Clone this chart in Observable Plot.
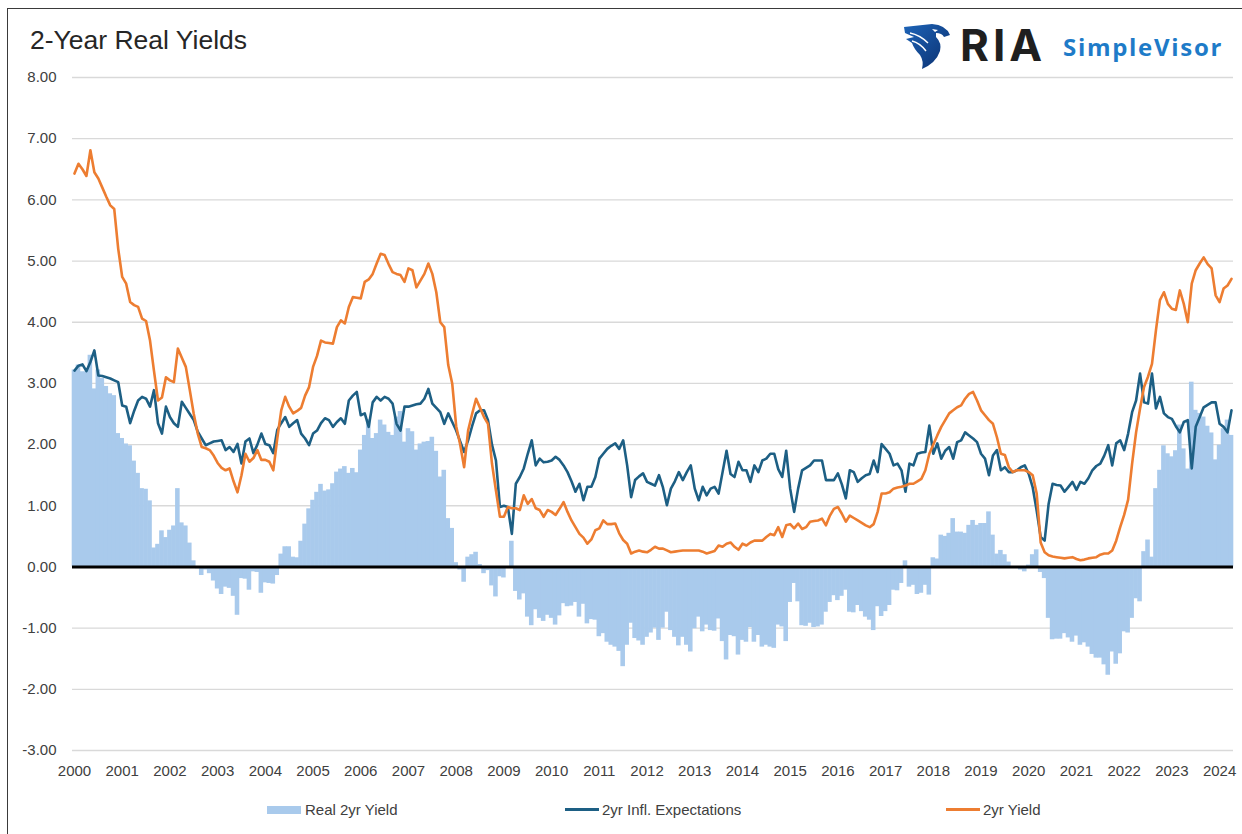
<!DOCTYPE html>
<html>
<head>
<meta charset="utf-8">
<script src="https://cdn.jsdelivr.net/npm/d3@7"></script>
<script src="https://cdn.jsdelivr.net/npm/@observablehq/plot@0.6"></script>
<style>
  body { margin: 0; background: #fff; }
  #wrap { position: relative; width: 1242px; height: 834px; overflow: hidden; font-family: "Liberation Sans", Arial, sans-serif; background: #fff; }
  #chart { position: absolute; left: 0; top: 0; }
  #frame { position: absolute; left: 7px; top: 8px; width: 1240px; height: 830px; border-top: 1.5px solid #3a3a3a; border-left: 1.5px solid #3a3a3a; pointer-events: none; }
  #title { position: absolute; left: 30px; top: 25px; font-size: 26.5px; color: #262626; white-space: nowrap; }
  #logo { position: absolute; left: 900px; top: 18px; width: 340px; height: 56px; }
  #ria { position: absolute; left: 60px; top: 0px; font-size: 44px; font-weight: 700; color: #1f1f1f; letter-spacing: 4px; font-family: "Inter", "Liberation Sans", Arial, sans-serif; }
  #sv { position: absolute; left: 163px; top: 12px; font-size: 24px; font-weight: bold; color: #1e7bc8; letter-spacing: 1.7px; font-family: "Open Sans", "Liberation Sans", sans-serif; }
  .leg { position: absolute; top: 801px; font-size: 15px; color: #404040; white-space: nowrap; display: flex; align-items: center; }
  .sw-rect { width: 34px; height: 8px; background: #a9caec; margin-right: 4px; }
  .sw-line { width: 34px; height: 3px; margin-right: 3px; }
</style>
</head>
<body>
<div id="wrap">
  <div id="chart"></div>
  <div id="title">2-Year Real Yields</div>
  <div id="logo">
    <svg width="52" height="50" viewBox="0 0 52 50" style="position:absolute;left:2px;top:3px">
      <defs>
        <linearGradient id="eg" x1="0" y1="0" x2="1" y2="1">
          <stop offset="0" stop-color="#1d64b8"/>
          <stop offset="1" stop-color="#0b2f6e"/>
        </linearGradient>
      </defs>
      <path d="M2 6 L30 3 Q44 4 48 14 L42 16 Q40 12 34 12 L34 16 Q40 22 38 30 Q34 42 20 48 Q22 40 18 34 Q12 28 10 22 L4 18 L12 16 L3 12 Z" fill="url(#eg)"/>
      <path d="M30 8 L36 9 L33 11 Z" fill="#fff"/>
      <path d="M10 20 Q18 22 24 30 M8 12 Q18 14 26 22" stroke="#fff" stroke-width="1.4" fill="none"/>
    </svg>
    <div id="ria">RIA</div>
    <div id="sv">SimpleVisor</div>
  </div>
  <div class="leg" style="left:267px"><div class="sw-rect"></div>Real 2yr Yield</div>
  <div class="leg" style="left:565px"><div class="sw-line" style="background:#1d5f84"></div>2yr Infl. Expectations</div>
  <div class="leg" style="left:946px"><div class="sw-line" style="background:#ed7d31"></div>2yr Yield</div>
  <div id="frame"></div>
</div>
<script>
// Monthly data, Jan 2000 .. Apr 2024
const startYear = 2000;
const yAxisTicks = [-3, -2, -1, 0, 1, 2, 3, 4, 5, 6, 7, 8];
const xAxisYears = [2000, 2001, 2002, 2003, 2004, 2005, 2006, 2007, 2008, 2009, 2010, 2011, 2012, 2013, 2014, 2015, 2016, 2017, 2018, 2019, 2020, 2021, 2022, 2023, 2024];
const seriesNames = ["Real 2yr Yield", "2yr Infl. Expectations", "2yr Yield"];

// 2yr Treasury yield (orange)
const yield2yr = [
  6.43, 6.59, 6.50, 6.39, 6.81, 6.45, 6.35, 6.20, 6.05, 5.91, 5.85, 5.20,
  4.74, 4.63, 4.33, 4.28, 4.25, 4.06, 4.02, 3.70, 3.20, 2.72, 2.77, 3.10,
  3.05, 3.02, 3.57, 3.42, 3.27, 2.89, 2.50, 2.18, 1.96, 1.94, 1.91, 1.82,
  1.70, 1.62, 1.58, 1.61, 1.40, 1.22, 1.50, 1.85, 1.72, 1.78, 1.91, 1.75,
  1.75, 1.72, 1.58, 2.10, 2.56, 2.78, 2.62, 2.51, 2.55, 2.60, 2.80, 2.94,
  3.27, 3.45, 3.70, 3.67, 3.66, 3.65, 3.92, 4.03, 3.98, 4.25, 4.41, 4.40,
  4.39, 4.66, 4.70, 4.79, 4.96, 5.12, 5.10, 4.95, 4.82, 4.79, 4.77, 4.66,
  4.88, 4.85, 4.57, 4.68, 4.79, 4.96, 4.79, 4.49, 4.00, 3.92, 3.30, 3.00,
  2.30, 2.00, 1.63, 2.23, 2.50, 2.75, 2.60, 2.45, 2.34, 1.69, 1.25, 0.82,
  0.82, 0.98, 0.96, 0.96, 0.93, 1.17, 1.03, 1.11, 0.96, 0.93, 0.82, 0.93,
  0.90, 0.85, 0.95, 1.06, 0.90, 0.76, 0.65, 0.54, 0.48, 0.38, 0.45, 0.60,
  0.63, 0.76, 0.70, 0.70, 0.71, 0.55, 0.44, 0.38, 0.22, 0.25, 0.27, 0.25,
  0.24, 0.28, 0.33, 0.30, 0.30, 0.27, 0.24, 0.25, 0.26, 0.27, 0.27, 0.27,
  0.27, 0.27, 0.25, 0.22, 0.24, 0.26, 0.35, 0.33, 0.38, 0.40, 0.33, 0.28,
  0.38, 0.35, 0.40, 0.43, 0.43, 0.43, 0.49, 0.54, 0.52, 0.65, 0.49, 0.68,
  0.70, 0.63, 0.71, 0.62, 0.65, 0.74, 0.75, 0.76, 0.79, 0.68, 0.84, 0.95,
  0.98, 0.87, 0.74, 0.84, 0.80, 0.76, 0.72, 0.68, 0.65, 0.70, 0.90, 1.20,
  1.20, 1.22, 1.28, 1.30, 1.31, 1.33, 1.36, 1.36, 1.40, 1.44, 1.58, 1.85,
  2.00, 2.15, 2.29, 2.40, 2.51, 2.56, 2.61, 2.64, 2.75, 2.83, 2.86, 2.72,
  2.56, 2.48, 2.40, 2.34, 2.12, 1.85, 1.83, 1.63, 1.55, 1.58, 1.58, 1.58,
  1.55, 1.50, 1.20, 0.40, 0.24, 0.19, 0.17, 0.16, 0.15, 0.14, 0.15, 0.16,
  0.13, 0.11, 0.12, 0.14, 0.15, 0.16, 0.20, 0.22, 0.22, 0.27, 0.43, 0.65,
  0.85, 1.10, 1.69, 2.20, 2.59, 2.94, 3.11, 3.32, 3.87, 4.36, 4.49, 4.30,
  4.22, 4.20, 4.52, 4.30, 4.00, 4.63, 4.85, 4.96, 5.06, 4.95, 4.88, 4.44,
  4.33, 4.55, 4.60, 4.71
];

// 2yr inflation expectations (dark blue)
const inflExp2yr = [
  3.21, 3.29, 3.31, 3.20, 3.35, 3.54, 3.13, 3.12, 3.10, 3.08, 3.05, 3.02,
  2.64, 2.62, 2.35, 2.55, 2.72, 2.78, 2.75, 2.62, 2.89, 2.35, 2.18, 2.62,
  2.45, 2.35, 2.29, 2.70, 2.60, 2.50, 2.40, 2.21, 2.10, 1.99, 2.02, 2.05,
  2.06, 2.07, 1.91, 1.96, 1.88, 2.01, 1.69, 2.05, 2.10, 1.86, 2.00, 2.18,
  2.01, 1.99, 1.86, 2.24, 2.35, 2.45, 2.29, 2.35, 2.40, 2.18, 2.10, 1.99,
  2.18, 2.23, 2.35, 2.43, 2.40, 2.29, 2.37, 2.43, 2.34, 2.72, 2.80, 2.86,
  2.48, 2.51, 2.29, 2.69, 2.78, 2.72, 2.78, 2.75, 2.67, 2.34, 2.23, 2.62,
  2.62, 2.64, 2.66, 2.67, 2.75, 2.91, 2.67, 2.60, 2.53, 2.34, 2.51, 2.37,
  2.23, 2.05, 1.88, 2.07, 2.30, 2.51, 2.56, 2.56, 2.40, 2.00, 1.74, 0.98,
  1.00, 0.98, 0.54, 1.36, 1.47, 1.61, 1.85, 2.07, 1.66, 1.77, 1.71, 1.72,
  1.74, 1.80, 1.75, 1.66, 1.55, 1.40, 1.23, 1.36, 1.09, 1.31, 1.31, 1.47,
  1.77, 1.85, 1.93, 1.98, 2.02, 1.93, 2.07, 1.66, 1.14, 1.42, 1.48, 1.53,
  1.39, 1.36, 1.33, 1.50, 1.30, 1.01, 1.28, 1.40, 1.55, 1.42, 1.55, 1.66,
  1.28, 1.09, 1.31, 1.17, 1.28, 1.31, 1.20, 1.55, 1.90, 1.52, 1.47, 1.72,
  1.58, 1.58, 1.39, 1.66, 1.55, 1.74, 1.77, 1.85, 1.85, 1.60, 1.47, 1.90,
  1.28, 0.90, 1.28, 1.58, 1.62, 1.66, 1.74, 1.74, 1.74, 1.42, 1.42, 1.42,
  1.53, 1.35, 1.12, 1.58, 1.55, 1.39, 1.45, 1.50, 1.52, 1.74, 1.55, 2.01,
  1.93, 1.85, 1.66, 1.69, 1.58, 1.23, 1.69, 1.66, 1.85, 1.87, 1.88, 2.31,
  1.85, 2.02, 1.77, 1.90, 1.96, 1.77, 2.04, 2.07, 2.20, 2.15, 2.10, 2.04,
  1.85, 1.77, 1.50, 1.82, 1.91, 1.58, 1.63, 1.55, 1.55, 1.58, 1.63, 1.66,
  1.52, 1.30, 0.92, 0.49, 0.43, 1.03, 1.36, 1.34, 1.33, 1.23, 1.31, 1.39,
  1.26, 1.39, 1.36, 1.45, 1.58, 1.65, 1.69, 1.82, 1.99, 1.66, 2.02, 2.07,
  1.91, 2.18, 2.53, 2.72, 3.16, 2.69, 2.67, 3.16, 2.59, 2.78, 2.51, 2.45,
  2.42, 2.30, 2.20, 2.37, 2.40, 1.61, 2.29, 2.45, 2.61, 2.65, 2.69, 2.69,
  2.34, 2.29, 2.20, 2.56
];

const colors = { real: "#a9caec", infl: "#1d5f84", yield: "#ed7d31" };

// Real 2yr yield = 2yr yield - 2yr inflation expectations
const data = yield2yr.map((v, i) => ({
  m: i,
  yield: v,
  infl: inflExp2yr[i],
  real: +(v - inflExp2yr[i]).toFixed(2)
}));

const xTicks = xAxisYears.map(y => (y - startYear) * 12);

const chart = Plot.plot({
  width: 1242,
  height: 834,
  marginTop: 77,
  marginBottom: 84,
  marginLeft: 72,
  marginRight: 9,
  style: { fontFamily: '"Liberation Sans", Arial, sans-serif', fontSize: "15px", color: "#404040", background: "transparent" },
  x: { domain: [-0.5, yield2yr.length - 0.5], label: null },
  y: { domain: [-3, 8], label: null },
  marks: [
    Plot.gridY(yAxisTicks, { stroke: "#d9d9d9", strokeOpacity: 1, strokeWidth: 1.3 }),
    Plot.rect(data, {
      x1: d => d.m - 0.5, x2: d => d.m + 0.5, y1: 0, y2: "real",
      fill: colors.real, insetLeft: -0.3, insetRight: -0.3
    }),
    Plot.ruleY([0], { stroke: "#000", strokeWidth: 3 }),
    Plot.line(data, { x: "m", y: "infl", stroke: colors.infl, strokeWidth: 2.6, strokeLinejoin: "round" }),
    Plot.line(data, { x: "m", y: "yield", stroke: colors.yield, strokeWidth: 2.6, strokeLinejoin: "round" }),
    Plot.axisY(yAxisTicks, { tickSize: 0, tickPadding: 16, tickFormat: d => d.toFixed(2), fill: "#404040", fontSize: 15, label: null }),
    Plot.axisX(xTicks, { tickSize: 0, tickPadding: 15, tickFormat: d => String(startYear + d / 12), fill: "#404040", fontSize: 15, label: null })
  ]
});
document.getElementById("chart").appendChild(chart);
</script>
</body>
</html>
